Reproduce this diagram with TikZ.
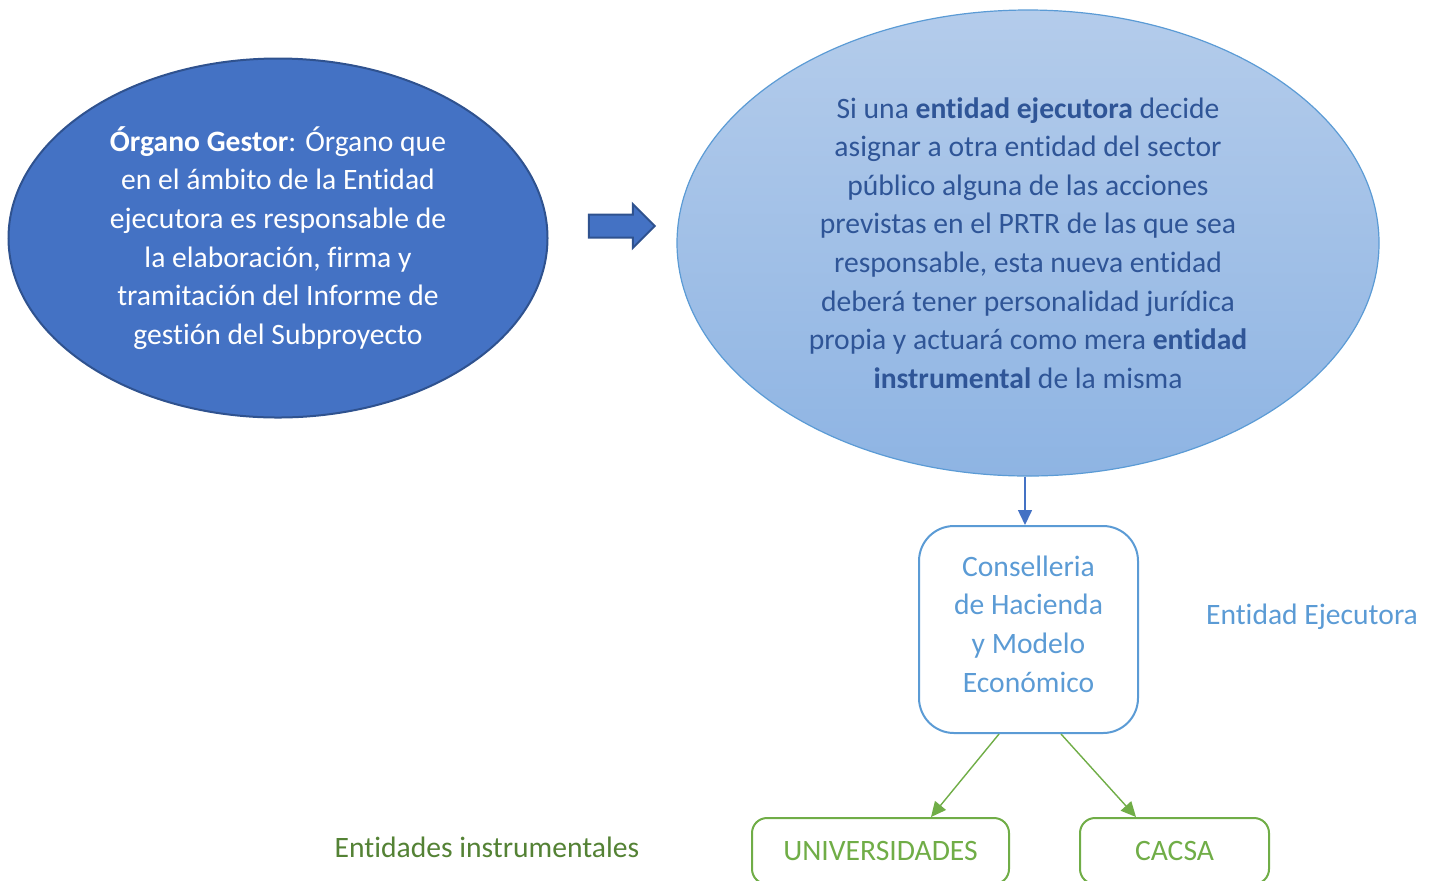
\documentclass[tikz,border=0pt]{standalone}
\usepackage{fontspec}
\setmainfont{Carlito}[Ligatures={NoCommon,NoContextual}]
\usetikzlibrary{shapes.geometric,shapes.arrows,arrows.meta,positioning}
\definecolor{gestorfill}{HTML}{4472C4}
\definecolor{gestorline}{HTML}{2F528F}
\definecolor{skyline}{HTML}{5B9BD5}
\definecolor{skytop}{HTML}{B4CCEB}
\definecolor{skybottom}{HTML}{8EB4E3}
\definecolor{navytext}{HTML}{2F5597}
\definecolor{leafgreen}{HTML}{70AD47}
\definecolor{darkleaf}{HTML}{548235}

\begin{document}
\begin{tikzpicture}[x=0.5pt,y=-0.5pt,
   font=\fontsize{14.8pt}{19.3pt}\selectfont,
   bubble/.style={ellipse,inner sep=0pt,align=center},
   roundbox/.style={rectangle,rounded corners=17.5pt,inner sep=0pt,align=center,line width=1pt},
   link/.style={-{Triangle[length=7.5pt,width=7pt]}}]
   \clip (0,0) rectangle (1433,880);
   \node[bubble,fill=gestorfill,draw=gestorline,line width=1pt,text=white,
         minimum width=269.5pt,minimum height=179.5pt] (gestor) at (278,238)
         {\textbf{Órgano Gestor}: Órgano que\\ en el ámbito de la Entidad\\
          ejecutora es responsable de\\ la elaboración, firma y\\
          tramitación del Informe de\\ gestión del Subproyecto};
   \node[single arrow,fill=gestorfill,draw=gestorline,line width=1pt,inner xsep=0pt,inner ysep=5.25pt,
         minimum height=33pt,minimum width=21pt,single arrow head extend=5.25pt] (paso) at (616,226) {};
   \node[bubble,top color=skytop,bottom color=skybottom,draw=skyline,line width=0.6pt,text=navytext,
         minimum width=351pt,minimum height=233pt] (decide) at (1028,243)
         {Si una \textbf{entidad ejecutora} decide\\ asignar a otra entidad del sector\\
          público alguna de las acciones\\ previstas en el PRTR de las que sea\\
          responsable, esta nueva entidad\\ deberá tener personalidad jurídica\\
          propia y actuará como mera \textbf{entidad}\\ \textbf{instrumental} de la misma};
   \node[roundbox,draw=skyline,minimum width=109.5pt,minimum height=103.5pt] (conselleria) at (1028.5,629.5) {};
   \node[text=skyline,align=center] (consellerianame) at (1028.5,624)
         {Conselleria\\ de Hacienda\\ y Modelo\\ Económico};
   \node[text=skyline] (ejecutora) at (1312,617) {Entidad Ejecutora};
   \node[roundbox,rounded corners=7.5pt,draw=leafgreen,text=leafgreen,minimum width=128.5pt,minimum height=33pt] (univ) at (880.5,851) {UNIVERSIDADES};
   \node[roundbox,rounded corners=7.5pt,draw=leafgreen,text=leafgreen,minimum width=94.5pt,minimum height=33pt] (cacsa) at (1174.5,851) {CACSA};
   \node[text=darkleaf] (instrumentales) at (487,847) {Entidades instrumentales};
   \draw[link,gestorfill,line width=0.75pt] ([xshift=-1.5pt]decide.south) -- ([xshift=-1.75pt]conselleria.north);
   \draw[link,leafgreen,line width=0.7pt] ([xshift=-14.75pt]conselleria.south) -- ([xshift=25.25pt]univ.north);
   \draw[link,leafgreen,line width=0.7pt] ([xshift=16.25pt]conselleria.south) -- ([xshift=-19.25pt]cacsa.north);
\end{tikzpicture}
\end{document}
